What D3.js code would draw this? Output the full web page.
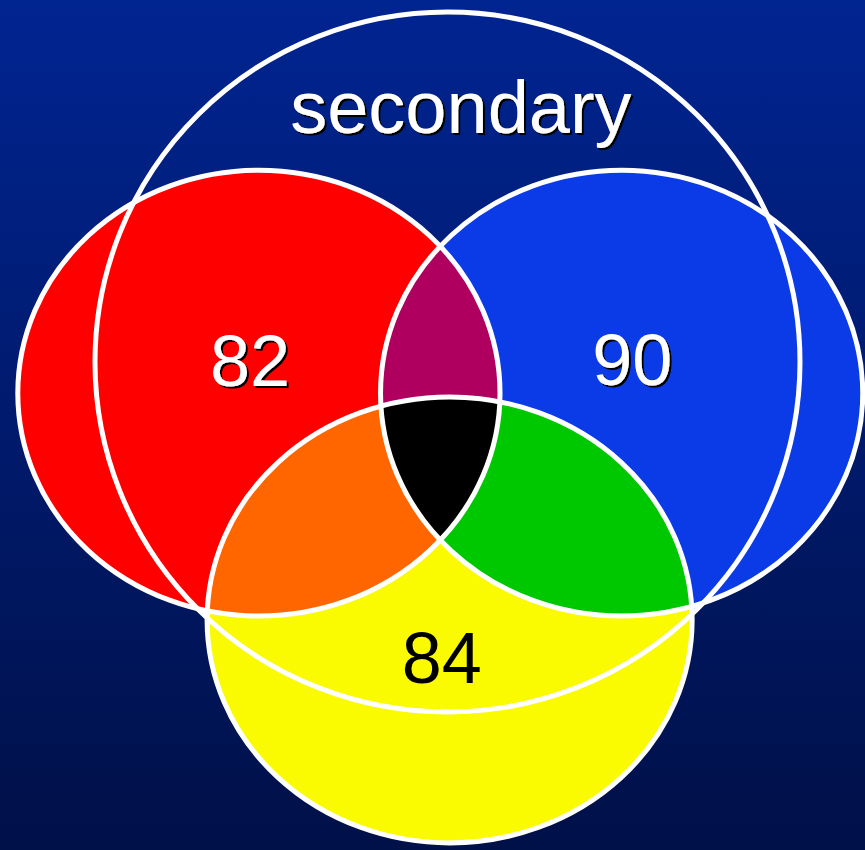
<!DOCTYPE html>
<html>
<head>
<meta charset="utf-8">
<script src="https://cdn.jsdelivr.net/npm/d3@7"></script>
<style>
  html, body { margin: 0; padding: 0; background: #001048; }
  svg { display: block; }
</style>
</head>
<body>
<svg id="chart" width="865" height="850"></svg>
<script>
// ---- data ----
const setLabels = ["82", "90", "84"];
const setValues = [82, 90, 84];
const outerLabel = "secondary";
const setColors = ["#ff0000", "#0a3be6", "#fafa00"];
const pairColors = { "0-1": "#b0005f", "0-2": "#ff6600", "1-2": "#00c800" };
const tripleColor = "#000000";

// ---- layout (unit space: outer circle spans [-1,1]) ----
const outer = { cx: 0, cy: 0, rx: 1, ry: 1 };
const sets = [
  { cx: -0.535, cy: 0.089, rx: 0.684, ry: 0.637 },
  { cx:  0.494, cy: 0.089, rx: 0.684, ry: 0.637 },
  { cx:  0.006, cy: 0.737, rx: 0.688, ry: 0.637 }
];
const labelPos = [
  { x: -0.560, y: 0.069 },
  { x:  0.524, y: 0.066 },
  { x: -0.016, y: 0.917 }
];
const outerLabelPos = { x: 0.038, y: -0.654 };

const W = 865, H = 850;
const x = d3.scaleLinear().domain([-1, 1]).range([95, 800]);
const y = d3.scaleLinear().domain([-1, 1]).range([12, 712]);
const sx = v => x(v) - x(0);
const sy = v => y(v) - y(0);

const svg = d3.select("#chart");
const defs = svg.append("defs");

const grad = defs.append("linearGradient")
  .attr("id", "bg").attr("x1", 0).attr("y1", 0).attr("x2", 0).attr("y2", 1);
grad.append("stop").attr("offset", "0%").attr("stop-color", "#002491");
grad.append("stop").attr("offset", "100%").attr("stop-color", "#001048");

const shadow = defs.append("filter").attr("id", "shadow")
  .attr("x", "-10%").attr("y", "-10%").attr("width", "120%").attr("height", "130%");
shadow.append("feDropShadow").attr("dx", 2).attr("dy", 2)
  .attr("stdDeviation", 0.6).attr("flood-color", "#000000").attr("flood-opacity", 1);

svg.append("rect").attr("width", W).attr("height", H).attr("fill", "url(#bg)");

// clip paths for each set
sets.forEach((s, i) => {
  defs.append("clipPath").attr("id", "clip" + i)
    .append("ellipse")
    .attr("cx", x(s.cx)).attr("cy", y(s.cy))
    .attr("rx", sx(s.rx)).attr("ry", sy(s.ry));
});
// nested clip: set0 ∩ set1
defs.append("clipPath").attr("id", "clip01")
  .attr("clip-path", "url(#clip0)")
  .append("ellipse")
  .attr("cx", x(sets[1].cx)).attr("cy", y(sets[1].cy))
  .attr("rx", sx(sets[1].rx)).attr("ry", sy(sets[1].ry));

function ell(g, s) {
  return g.append("ellipse")
    .attr("cx", x(s.cx)).attr("cy", y(s.cy))
    .attr("rx", sx(s.rx)).attr("ry", sy(s.ry));
}

const fills = svg.append("g");
sets.forEach((s, i) => ell(fills, s).attr("fill", setColors[i]));
// pairwise
[[0, 1], [0, 2], [1, 2]].forEach(([a, b]) => {
  ell(fills, sets[b]).attr("fill", pairColors[a + "-" + b]).attr("clip-path", "url(#clip" + a + ")");
});
// triple
ell(fills, sets[2]).attr("fill", tripleColor).attr("clip-path", "url(#clip01)");

// outlines
const lines = svg.append("g").attr("fill", "none").attr("stroke", "#ffffff").attr("stroke-width", 5);
ell(lines, outer);
sets.forEach(s => ell(lines, s));

// labels
const font = "'Liberation Sans', Arial, Helvetica, sans-serif";
function label(txt, p, color, size, withShadow) {
  const t = svg.append("text").attr("x", x(p.x)).attr("y", y(p.y))
    .attr("text-anchor", "middle").attr("font-family", font).attr("font-size", size)
    .attr("fill", color).text(txt);
  if (withShadow) t.attr("filter", "url(#shadow)");
  return t;
}
label(outerLabel, outerLabelPos, "#ffffff", 74, true);
setLabels.forEach((t, i) => label(t, labelPos[i], i === 2 ? "#000000" : "#ffffff", 72, i !== 2));
</script>
</body>
</html>
